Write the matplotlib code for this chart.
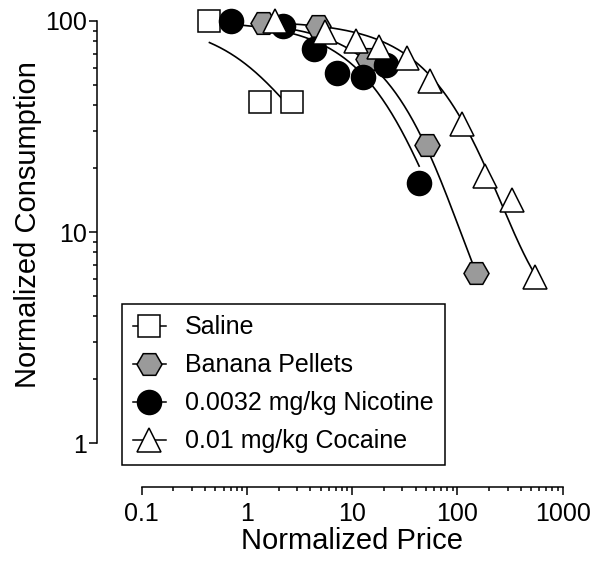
import numpy as np
import matplotlib.pyplot as plt
from matplotlib.lines import Line2D
from matplotlib.ticker import FixedLocator, NullFormatter

plt.rcParams['font.family'] = ['Liberation Sans', 'DejaVu Sans']

# normalized price (x) and normalized consumption (y)
saline_price = [0.44, 1.34, 2.67]
saline_cons = [100, 41.4, 41.4]

banana_price = [1.41, 4.71, 14.1, 50.9, 151]
banana_cons = [97.5, 94.7, 66.1, 25.8, 6.4]

nicotine_price = [0.71, 2.19, 4.30, 7.16, 12.8, 21.0, 43.3]
nicotine_cons = [100, 95, 73.7, 56.5, 54.4, 61.8, 17.0]

cocaine_price = [1.84, 5.51, 10.9, 18.0, 33.2, 54.4, 110, 184, 331, 552]
cocaine_cons = [100, 89.0, 80.8, 74.9, 67.1, 52.1, 32.4, 18.4, 14.2, 6.1]

labels = ['Saline', 'Banana Pellets', '0.0032 mg/kg Nicotine', '0.01 mg/kg Cocaine']
xticks = [0.1, 1, 10, 100, 1000]
yticks = [1, 10, 100]

# exponential demand fits: log10(Q) = L0 - k * (1 - exp(-b * C))
# (L0, k, b) estimated from the drawn curves
saline_fit = (2.0, 0.648, 0.39)
banana_fit = (2.0, 1.565, 0.0095)
nicotine_fit = (2.0, 1.32, 0.017)
cocaine_fit = (2.0, 1.373, 0.0038)


def demand(c, fit):
    L0, k, b = fit
    return 10 ** (L0 - k * (1 - np.exp(-b * c)))


def minor_between(majors):
    # 2..9 times each decade, only inside the drawn spine
    out = []
    for m in majors[:-1]:
        out += [m * s for s in range(2, 10)]
    return out


fig = plt.figure(figsize=(6, 5.67), dpi=100)
W, H = 600, 567
# axes box in pixels: left 97, right 562.6, top 21, bottom 487
ax = fig.add_axes([97 / W, 1 - 487 / H, (562.6 - 97) / W, (487 - 21) / H])
ax.set_xscale('log')
ax.set_yscale('log')
ax.set_xlim(10 ** -1.4253, 10 ** 3.0)
ax.set_ylim(10 ** -0.2085, 100)

series = [
    (saline_price, saline_cons, saline_fit, dict(marker='s', mfc='white', ms=15.6)),
    (banana_price, banana_cons, banana_fit, dict(marker='H', mfc='#9a9a9a', ms=18)),
    (nicotine_price, nicotine_cons, nicotine_fit, dict(marker='o', mfc='black', ms=17.3)),
    (cocaine_price, cocaine_cons, cocaine_fit, dict(marker='^', mfc='white', ms=17.5)),
]

handles = []
for i, (px, py, fit, st) in enumerate(series):
    cc = np.logspace(np.log10(px[0]), np.log10(px[-1]), 200)
    ax.plot(cc, demand(cc, fit), color='black', lw=1.2, zorder=2, clip_on=False)
    ax.plot(px, py, ls='none', mec='black', mew=1.1, zorder=3 + i, clip_on=False, **st)
    handles.append(Line2D([], [], color='black', lw=1.1, mec='black', mew=1.1, **st))

# spines / ticks in the Prism style
for s in ['top', 'right']:
    ax.spines[s].set_visible(False)
ax.spines['left'].set_bounds(1, 100)
ax.spines['bottom'].set_bounds(0.1, 1000)
for s in ['left', 'bottom']:
    ax.spines[s].set_linewidth(1.1)

ax.xaxis.set_major_locator(FixedLocator(xticks))
ax.xaxis.set_minor_locator(FixedLocator(minor_between(xticks)))
ax.yaxis.set_major_locator(FixedLocator(yticks))
ax.yaxis.set_minor_locator(FixedLocator(minor_between(yticks)))
ax.xaxis.set_minor_formatter(NullFormatter())
ax.yaxis.set_minor_formatter(NullFormatter())
ax.set_xticklabels([f'{v:g}' for v in xticks])
ax.set_yticklabels([f'{v:g}' for v in yticks])

ax.tick_params(which='major', length=5.5, width=1.1, labelsize=18, direction='out')
ax.tick_params(which='minor', length=3, width=1.1, direction='out')
ax.tick_params(axis='x', pad=5)
ax.tick_params(axis='y', pad=2)

ax.set_xlabel('Normalized Price', fontsize=21)
ax.xaxis.set_label_coords((352 - 97) / (562.6 - 97), -40 / 466, transform=ax.transAxes)
fig.text(28 / W, 1 - 225 / H, 'Normalized Consumption', rotation=90, fontsize=21,
         ha='center', va='center')

leg = ax.legend(handles, labels, loc='upper left',
                bbox_to_anchor=(121.7 / W, 1 - 304 / H), bbox_transform=fig.transFigure,
                fontsize=18, frameon=True, fancybox=False, framealpha=1,
                edgecolor='black', borderpad=0.45, labelspacing=0.56,
                handlelength=1.32, handletextpad=0.76, borderaxespad=0)
leg.get_frame().set_linewidth(1.1)

fig.savefig('out.png', dpi=100)
